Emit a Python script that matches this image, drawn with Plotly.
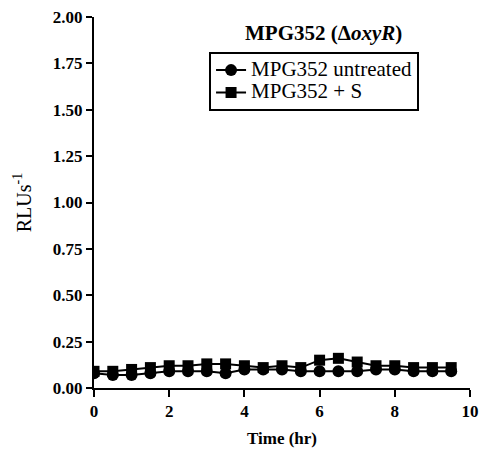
import plotly.graph_objects as go

time_hr = [0, 0.5, 1, 1.5, 2, 2.5, 3, 3.5, 4, 4.5, 5, 5.5, 6, 6.5, 7, 7.5, 8, 8.5, 9, 9.5]
untreated = [0.08, 0.07, 0.07, 0.08, 0.09, 0.09, 0.09, 0.08, 0.10, 0.10,
             0.10, 0.09, 0.09, 0.09, 0.09, 0.10, 0.10, 0.09, 0.09, 0.09]
plus_s = [0.09, 0.09, 0.10, 0.11, 0.12, 0.12, 0.13, 0.13, 0.12, 0.11,
          0.12, 0.11, 0.15, 0.16, 0.14, 0.12, 0.12, 0.11, 0.11, 0.11]
x_ticks = [0, 2, 4, 6, 8, 10]
y_ticks = [0, 0.25, 0.5, 0.75, 1.0, 1.25, 1.5, 1.75, 2.0]

serif = "Times New Roman, Liberation Serif, serif"


def legend_label(text):
    # larger glyphs than the legend row height, so the rows stay tight
    return f'<span style="font-size:21px">{text}</span>'


fig = go.Figure()
fig.add_trace(go.Scatter(
    x=time_hr, y=untreated, name=legend_label("MPG352 untreated"), mode="lines+markers",
    line=dict(color="black", width=2),
    marker=dict(symbol="circle", size=12, color="black"),
))
fig.add_trace(go.Scatter(
    x=time_hr, y=plus_s, name=legend_label("MPG352 + S"), mode="lines+markers",
    line=dict(color="black", width=2),
    marker=dict(symbol="square", size=11, color="black"),
))

fig.update_layout(
    width=486, height=464,
    margin=dict(l=94, r=7, t=17, b=76),
    paper_bgcolor="white", plot_bgcolor="white",
    font=dict(family=serif, color="black", size=16),
    showlegend=True,
    legend=dict(
        x=0.306, y=0.906, xanchor="left", yanchor="top",
        bordercolor="black", borderwidth=2, bgcolor="white",
        font=dict(family=serif, size=15, color="black"),
        tracegroupgap=0,
    ),
    xaxis=dict(
        range=[0, 10], tickvals=x_ticks, ticktext=[f"<b>{v}</b>" for v in x_ticks],
        showline=True, linecolor="black", linewidth=2,
        ticks="outside", ticklen=7, tickwidth=2, tickcolor="black",
        showgrid=False, zeroline=False, ticklabeloverflow="allow",
        tickfont=dict(family=serif, size=17, color="black"),
        title=dict(text="<b>Time (hr)</b>",
                   font=dict(family=serif, size=17, color="black"), standoff=12),
    ),
    yaxis=dict(
        range=[0, 2], tickvals=y_ticks, ticktext=[f"<b>{v:.2f}</b>" for v in y_ticks],
        showline=True, linecolor="black", linewidth=2,
        ticks="outside", ticklen=6, tickwidth=2, tickcolor="black",
        showgrid=False, zeroline=False,
        tickfont=dict(family=serif, size=17, color="black"),
        title=dict(text="RLUs<sup>-1</sup>",
                   font=dict(family=serif, size=20, color="black"), standoff=16),
    ),
    annotations=[dict(
        x=0.61, y=1.0, xref="paper", yref="paper", xanchor="center", yanchor="top",
        yshift=-2, showarrow=False,
        text="<b>MPG352 (Δ<i>oxyR</i>)</b>",
        font=dict(family=serif, size=21, color="black"),
    )],
)

fig.write_html("out.html")
